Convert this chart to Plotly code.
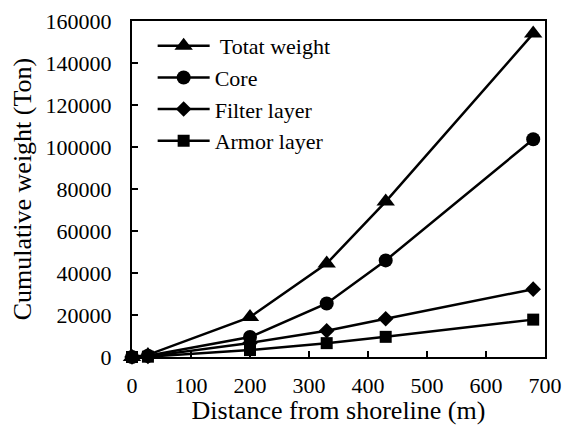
import plotly.graph_objects as go

distance = [0, 27, 200, 330, 430, 680]
total_weight = [0, 1000, 19000, 44500, 74000, 154000]
core = [0, 600, 9500, 25500, 46000, 103700]
filter_layer = [0, 300, 6700, 12500, 18200, 32300]
armor_layer = [0, 150, 3300, 6600, 9600, 17800]

series = [
    (" Totat weight", total_weight, "triangle-up", 16),
    ("Core", core, "circle", 14),
    ("Filter layer", filter_layer, "diamond", 12),
    ("Armor layer", armor_layer, "square", 12),
]

fig = go.Figure()
for name, vals, sym, sz in series:
    fig.add_trace(go.Scatter(
        x=distance, y=vals, name=name, mode="lines+markers",
        line=dict(color="black", width=2.5),
        marker=dict(symbol=sym, size=sz, color="black"),
        cliponaxis=False,
    ))

font = "Liberation Serif"
fig.update_layout(
    width=563, height=425,
    margin=dict(l=132, r=18, t=21, b=68, autoexpand=False),
    plot_bgcolor="white", paper_bgcolor="white",
    font=dict(family=font, color="black", size=22),
    showlegend=True,
    legend=dict(x=0.05, y=0.988, xanchor="left", yanchor="top",
                font=dict(size=22, family=font), bgcolor="rgba(0,0,0,0)",
                itemwidth=52),
    xaxis=dict(range=[0, 700], dtick=100, tick0=0, showline=True, linecolor="black",
               linewidth=2, mirror=True, ticks="inside", ticklen=6, tickwidth=1.5,
               tickcolor="black", showgrid=False, zeroline=False, automargin=False,
               tickfont=dict(size=22, family=font), ticklabelstandoff=8,
               title=dict(text="Distance from shoreline (m)", font=dict(size=26, family=font), standoff=6)),
    yaxis=dict(range=[0, 160000], dtick=20000, tick0=0, showline=True, linecolor="black",
               linewidth=2, mirror=True, ticks="inside", ticklen=6, tickwidth=1.5,
               tickcolor="black", showgrid=False, zeroline=False, tickformat="d", automargin=False,
               tickfont=dict(size=22, family=font), ticklabelstandoff=14,
               title=dict(text="Cumulative weight (Ton)", font=dict(size=26, family=font), standoff=6)),
)

fig.write_html("out.html", config={"displayModeBar": False},
               post_script="document.body.style.margin='0';document.body.style.overflow='hidden';")
